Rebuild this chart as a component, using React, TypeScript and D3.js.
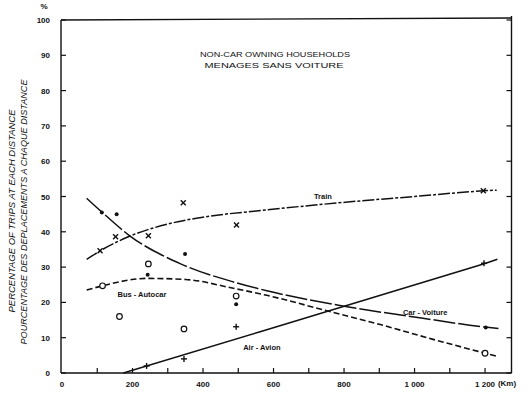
import React from "react";
import * as d3 from "d3";

const W = 530;
const H = 393;

const yTicks = [0, 10, 20, 30, 40, 50, 60, 70, 80, 90, 100];
const xTickLabels = ["0", "200", "400", "600", "800", "1 000", "1 200"];
const xTickValues = [0, 200, 400, 600, 800, 1000, 1200];
const xMinorTicks = [100, 200, 300, 400, 500, 600, 700, 800, 900, 1000, 1100, 1200];

// fitted curves (km, %)
const trainCurve: [number, number][] = [
  [70, 32.2], [108, 34.6], [193, 38.8], [300, 42.2], [391, 44], [581, 46.2], [817, 48.5], [1000, 50], [1195, 51.6], [1233, 51.8],
];
const carCurve: [number, number][] = [
  [70, 49.5], [113, 45.6], [193, 38.8], [335, 31], [486, 25.8], [581, 23.3], [796, 19], [1024, 15.5], [1200, 13], [1238, 12.6],
];
const busCurve: [number, number][] = [
  [70, 23.5], [115, 24.7], [240, 26.8], [350, 26.5], [486, 24], [581, 22], [756, 17.5], [900, 13.8], [1050, 9.6], [1200, 5.6], [1238, 4.6],
];
const airCurve: [number, number][] = [
  [174, 0], [562, 11.7], [1200, 31], [1235, 32.2],
];

// observed points
const trainPoints: [number, number][] = [
  [108, 34.6], [152, 38.6], [245, 38.9], [344, 48.2], [495, 41.9], [1195, 51.6],
];
const carPoints: [number, number][] = [
  [113, 45.5], [155, 45], [243, 27.8], [349, 33.7], [494, 19.5], [1202, 12.9],
];
const busPoints: [number, number][] = [
  [115, 24.7], [163, 16], [245, 30.9], [346, 12.5], [494, 21.8], [1200, 5.6],
];
const airPoints: [number, number][] = [
  [240, 2], [346, 4], [494, 13.1], [1197, 31.1],
];

const x = d3.scaleLinear().domain([0, 1275]).range([62, 511.5]);
const y = d3.scaleLinear().domain([0, 100]).range([373, 20]);

const line = d3
  .line<[number, number]>()
  .x((d) => x(d[0]))
  .y((d) => y(d[1]))
  .curve(d3.curveMonotoneX);
const straight = d3
  .line<[number, number]>()
  .x((d) => x(d[0]))
  .y((d) => y(d[1]))
  .curve(d3.curveLinear);

const FONT = "'Liberation Sans', Arial, sans-serif";

export default function App() {
  return (
    <svg
      width={W}
      height={H}
      style={{ position: "absolute", left: 0, top: 0, background: "#fff" }}
      fontFamily={FONT}
    >
      <rect width={W} height={H} fill="#fff" />
      {/* frame */}
      <line x1={x(0) - 1} x2={x(0) - 1} y1={y(100)} y2={y(0)} stroke="#111" strokeWidth={1.4} />
      <line x1={x(0) - 1} x2={x(1275)} y1={y(0)} y2={y(0)} stroke="#111" strokeWidth={1.6} />
      <line x1={x(0) - 1} x2={x(1275)} y1={y(100)} y2={y(100) - 2} stroke="#111" strokeWidth={1.4} />
      <line x1={x(1275)} x2={x(1275)} y1={y(100) - 4} y2={y(0)} stroke="#111" strokeWidth={1.4} />

      {/* y ticks */}
      {yTicks.map((t) => (
        <g key={"yt" + t}>
          <line x1={x(0) - 1} x2={x(0) + 4} y1={y(t)} y2={y(t)} stroke="#111" strokeWidth={1.2} />
          <line x1={x(1275) - 5} x2={x(1275)} y1={y(t)} y2={y(t)} stroke="#111" strokeWidth={1.2} />
          <text
            x={50}
            y={y(t) + 3}
            textAnchor="end"
            fontSize={8}
            fontWeight="bold"
            fill="#111"
          >
            {t}
          </text>
        </g>
      ))}
      <text x={44} y={9} textAnchor="middle" fontSize={8} fontWeight="bold" fill="#111">
        %
      </text>

      {/* x ticks */}
      {xMinorTicks.map((t) => (
        <line key={"xt" + t} x1={x(t)} x2={x(t)} y1={y(0)} y2={y(0) - 5} stroke="#111" strokeWidth={1.2} />
      ))}
      {xTickValues.map((t, i) => (
        <text
          key={"xl" + t}
          x={x(t)}
          y={387}
          textAnchor="middle"
          fontSize={8}
          fontWeight="bold"
          fill="#111"
        >
          {xTickLabels[i]}
        </text>
      ))}
      <text x={507} y={386} textAnchor="middle" fontSize={8} fontWeight="bold" fill="#111">
        (Km)
      </text>

      {/* y axis titles */}
      <text
        transform={`translate(15,211) rotate(-90)`}
        textAnchor="middle"
        fontSize={9}
        fontStyle="italic"
        fill="#111"
        textLength={203}
        lengthAdjust="spacingAndGlyphs"
      >
        PERCENTAGE OF TRIPS AT EACH DISTANCE
      </text>
      <text
        transform={`translate(27,212) rotate(-90)`}
        textAnchor="middle"
        fontSize={9}
        fontStyle="italic"
        fill="#111"
        textLength={265}
        lengthAdjust="spacingAndGlyphs"
      >
        POURCENTAGE DES DEPLACEMENTS A CHAQUE DISTANCE
      </text>

      {/* title */}
      <text x={275} y={57} textAnchor="middle" fontSize={7.5} fill="#111" textLength={150} lengthAdjust="spacingAndGlyphs">
        NON-CAR OWNING HOUSEHOLDS
      </text>
      <text x={274} y={68} textAnchor="middle" fontSize={7.5} fill="#111" textLength={139} lengthAdjust="spacingAndGlyphs">
        MENAGES SANS VOITURE
      </text>

      {/* curves */}
      <path d={line(trainCurve) || ""} fill="none" stroke="#111" strokeWidth={1.5} strokeDasharray="12,2,3,2" />
      <path d={line(carCurve) || ""} fill="none" stroke="#111" strokeWidth={1.5} strokeDasharray="22,3" />
      <path d={line(busCurve) || ""} fill="none" stroke="#111" strokeWidth={1.6} strokeDasharray="6,3" />
      <path d={straight(airCurve) || ""} fill="none" stroke="#111" strokeWidth={1.5} />

      {/* points */}
      {trainPoints.map((p, i) => (
        <g key={"tp" + i} transform={`translate(${x(p[0])},${y(p[1])})`} stroke="#111" strokeWidth={1.4}>
          <line x1={-2.5} y1={-2.5} x2={2.5} y2={2.5} />
          <line x1={-2.5} y1={2.5} x2={2.5} y2={-2.5} />
        </g>
      ))}
      {carPoints.map((p, i) => (
        <circle key={"cp" + i} cx={x(p[0])} cy={y(p[1])} r={2} fill="#111" />
      ))}
      {busPoints.map((p, i) => (
        <circle key={"bp" + i} cx={x(p[0])} cy={y(p[1])} r={2.8} fill="#fff" stroke="#111" strokeWidth={1.2} />
      ))}
      {airPoints.map((p, i) => (
        <g key={"ap" + i} transform={`translate(${x(p[0])},${y(p[1])})`} stroke="#111" strokeWidth={1.4}>
          <line x1={-3} y1={0} x2={3} y2={0} />
          <line x1={0} y1={-3} x2={0} y2={3} />
        </g>
      ))}

      {/* series labels */}
      <text x={x(740)} y={y(49.2)} textAnchor="middle" fontSize={7.5} fontWeight="bold" fill="#111">
        Train
      </text>
      <text x={x(1030)} y={y(16.4)} textAnchor="middle" fontSize={7.5} fontWeight="bold" fill="#111">
        Car - Voiture
      </text>
      <text x={x(227)} y={y(21.6)} textAnchor="middle" fontSize={7.5} fontWeight="bold" fill="#111">
        Bus - Autocar
      </text>
      <text x={x(567)} y={y(6.4)} textAnchor="middle" fontSize={7.5} fontWeight="bold" fill="#111">
        Air - Avion
      </text>
    </svg>
  );
}
